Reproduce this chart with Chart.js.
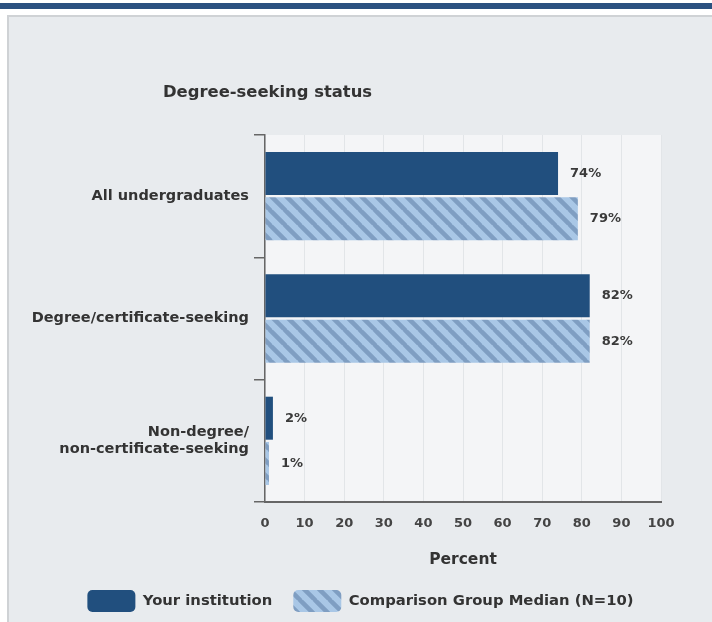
<!DOCTYPE html>
<html><head><meta charset="utf-8">
<script src="https://cdn.jsdelivr.net/npm/chart.js@4"></script>
<style>
html,body{margin:0;padding:0;background:#fff;}
#wrap{position:relative;width:712px;height:622px;overflow:hidden;background:#fff;}
#topbar{position:absolute;left:0;top:3px;width:712px;height:6px;background:#2b5180;}
#panel{position:absolute;left:7px;top:15px;width:710px;height:612px;background:#e8ebee;border-left:2px solid #cfd2d5;border-top:2px solid #cfd2d5;}
canvas{position:absolute;left:0;top:0;}
</style></head>
<body><div id="wrap"><div id="topbar"></div><div id="panel"></div><canvas id="c" width="712" height="622"></canvas></div>
<script>
const chartTitle = 'Degree-seeking status';
const categories = ['All undergraduates', 'Degree/certificate-seeking', ['Non-degree/', 'non-certificate-seeking']];
const yourInstitution = [74, 82, 2];
const comparisonMedian = [79, 82, 1];
const seriesNames = ['Your institution', 'Comparison Group Median (N=10)'];
const xTicks = [0, 10, 20, 30, 40, 50, 60, 70, 80, 90, 100];
const axisTitle = 'Percent';

const FONT = '"DejaVu Sans", sans-serif';
Chart.defaults.font.family = FONT;

function makeHatch() {
  const s = 15;
  const c = document.createElement('canvas');
  c.width = s; c.height = s;
  const g = c.getContext('2d');
  g.fillStyle = '#a9c7e6';
  g.fillRect(0, 0, s, s);
  g.strokeStyle = '#7f9ec2';
  g.lineWidth = 4.5;
  g.beginPath();
  for (let k = -1; k <= 1; k++) {
    g.moveTo(k * s - 1, -1);
    g.lineTo(k * s + s + 1, s + 1);
  }
  g.stroke();
  return document.getElementById('c').getContext('2d').createPattern(c, 'repeat');
}

const plotBg = {
  id: 'plotBg',
  beforeDraw(chart) {
    const {ctx, chartArea: a} = chart;
    ctx.save();
    ctx.fillStyle = '#f4f5f7';
    ctx.fillRect(a.left, a.top, a.right - a.left, a.bottom - a.top);
    ctx.restore();
  },
  afterDraw(chart) {
    const ctx = chart.ctx;
    ctx.save();
    ctx.font = 'bold 16.4px ' + FONT;
    ctx.fillStyle = '#333';
    ctx.textBaseline = 'middle';
    ctx.textAlign = 'left';
    ctx.fillText(chartTitle, 163, 93);
    ctx.restore();
  }
};

const valueLabels = {
  id: 'valueLabels',
  afterDatasetsDraw(chart) {
    const ctx = chart.ctx;
    ctx.save();
    ctx.font = 'bold 13px ' + FONT;
    ctx.fillStyle = '#3a3a3a';
    ctx.textBaseline = 'middle';
    ctx.textAlign = 'left';
    chart.data.datasets.forEach((ds, i) => {
      chart.getDatasetMeta(i).data.forEach((bar, j) => {
        ctx.fillText(ds.data[j] + '%', bar.x + 12, bar.y);
      });
    });
    ctx.restore();
  }
};

new Chart(document.getElementById('c'), {
  type: 'bar',
  data: {
    labels: categories,
    datasets: [
      {label: seriesNames[0], data: yourInstitution, backgroundColor: '#214f7e', borderWidth: 0,
       categoryPercentage: 0.74, barPercentage: 0.95},
      {label: seriesNames[1], data: comparisonMedian, backgroundColor: makeHatch(), borderWidth: 0,
       categoryPercentage: 0.74, barPercentage: 0.95}
    ]
  },
  options: {
    responsive: false,
    animation: false,
    indexAxis: 'y',
    layout: {padding: {left: 10, right: 1, top: 135, bottom: 0}},
    scales: {
      x: {
        min: 0, max: 100,
        afterBuildTicks(s) { s.ticks = xTicks.map(v => ({value: v})); },
        ticks: {color: '#444', font: {size: 13, weight: 'bold'}, padding: 14, maxRotation: 0, autoSkip: false},
        grid: {color: '#e2e5e8', drawTicks: false, lineWidth: 1},
        border: {color: '#666', width: 2},
        title: {display: true, text: axisTitle, color: '#333', font: {size: 15.5, weight: 'bold'}, padding: {top: 4, bottom: 0}},
        afterFit(s) { s.height = 67; }
      },
      y: {
        grid: {offset: true, drawOnChartArea: false, drawTicks: true, tickLength: 11, color: '#666', lineWidth: 1.5},
        border: {color: '#666', width: 1.5},
        ticks: {color: '#333', font: {size: 14.5, weight: 'bold'}, padding: 5},
        afterFit(s) { s.width = 255; }
      },
      y2: {
        type: 'linear', position: 'right', display: true,
        grid: {display: false}, border: {display: false}, ticks: {display: false},
        afterFit(s) { s.width = 50; }
      }
    },
    plugins: {
      legend: {
        position: 'bottom',
        labels: {boxWidth: 48, boxHeight: 22, padding: 21, useBorderRadius: true, borderRadius: 5,
                 color: '#333', font: {size: 14.8, weight: 'bold'}}
      },
      tooltip: {enabled: false}
    }
  },
  plugins: [plotBg, valueLabels]
});
</script>
</body></html>
